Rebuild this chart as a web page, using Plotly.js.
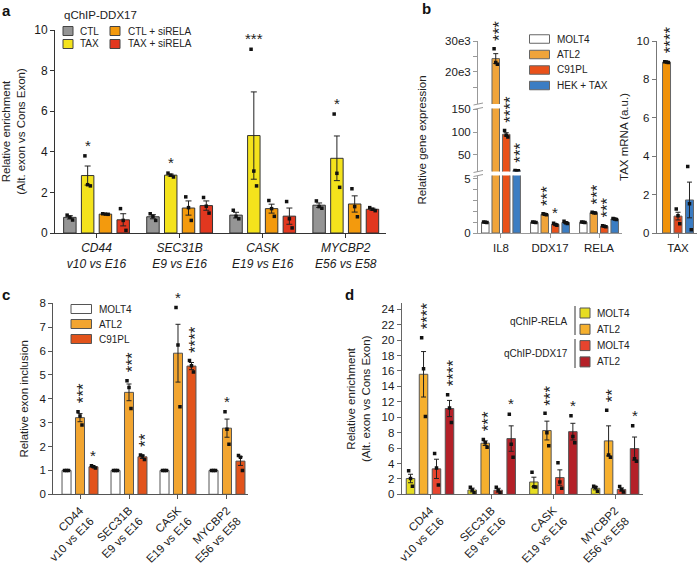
<!DOCTYPE html>
<html><head><meta charset="utf-8">
<script src="https://cdn.plot.ly/plotly-3.0.1.min.js"></script>
<style>html,body{margin:0;padding:0;background:#fff;} #chart{width:697px;height:565px;}</style>
</head><body><div id="chart"></div>
<script>
// ================= DATA =================
const geneNames = ['CD44', 'SEC31B', 'CASK', 'MYCBP2'];
const exonPairs = ['v10 vs E16', 'E9 vs E16', 'E19 vs E16', 'E56 vs E58'];

// ---- Panel a : qChIP-DDX17 ----
const aTitle = 'qChIP-DDX17';
const aSeries = ['CTL', 'TAX', 'CTL + siRELA', 'TAX + siRELA'];
const aCTL = [0.77, 0.80, 0.88, 1.37];
const aTAX = [2.83, 2.85, 4.80, 3.68];
const aCTLsi = [0.93, 1.23, 1.20, 1.43];
const aTAXsi = [0.65, 1.35, 0.83, 1.17];
const aCTLerr = [0.08, 0.10, 0.14, 0.11];
const aTAXerr = [0.47, 0.05, 2.15, 1.10];
const aCTLsiErr = [0.02, 0.35, 0.22, 0.40];
const aTAXsiErr = [0.30, 0.23, 0.40, 0.05];
const aCTLpts = [[0.88, 0.78, 0.64], [0.95, 0.82, 0.62], [1.12, 0.82, 0.70], [1.58, 1.30, 1.22]];
const aTAXpts = [[3.80, 2.38, 2.32], [2.95, 2.85, 2.76], [9.05, 3.05, 2.32], [5.86, 2.94, 2.25]];
const aCTLsiPts = [[0.95, 0.93, 0.92], [1.78, 1.25, 0.62], [1.60, 1.20, 0.82], [2.18, 1.30, 0.80]];
const aTAXsiPts = [[1.20, 0.62, 0.13], [1.75, 1.32, 0.98], [1.55, 0.70, 0.25], [1.25, 1.17, 1.10]];
const aTAXstars = ['*', '*', '***', '*'];

// ---- Panel b (left) : relative gene expression ----
const bCats = ['IL8', 'DDX17', 'RELA'];
const bSeries = ['MOLT4', 'ATL2', 'C91PL', 'HEK + TAX'];
const bMOLT4 = [1, 1, 1];
const bATL2 = [24300, 1.73, 1.88];
const bC91PL = [95, 0.80, 0.62];
const bHEK = [16, 0.97, 1.30];
const bMOLT4err = [0.02, 0.02, 0.02];
const bATL2err = [1600, 0.05, 0.05];
const bC91PLerr = [3.5, 0.08, 0.04];
const bHEKerr = [0.3, 0.08, 0.05];
const bMOLT4pts = [[1.02, 1.0, 0.98], [1.02, 1.0, 0.98], [1.02, 1.0, 0.98]];
const bATL2pts = [[27500, 23000, 22500], [1.78, 1.73, 1.68], [1.92, 1.88, 1.84]];
const bC91PLpts = [[103, 93, 89], [0.90, 0.78, 0.72], [0.66, 0.62, 0.58]];
const bHEKpts = [[16.3, 16.0, 15.7], [1.08, 0.95, 0.88], [1.35, 1.30, 1.25]];
const bATL2stars = ['***', '***', '***'];
const bC91PLstars = ['****', '*', '***'];
const bHEKstars = ['***', '', ''];
const bTopTicks = [15000, 20000, 25000, 30000];
const bTopTickText = ['', '20e3', '', '30e3'];
const bMidTicks = [50, 100, 150];
const bLowTicks = [0, 1, 2, 3, 4, 5];
const bLowTickText = ['0', '', '', '', '', '5'];

// ---- Panel b (right) : TAX mRNA ----
const tCats = ['TAX'];
const tSeries = ['ATL2', 'C91PL', 'HEK + TAX'];
const tValues = [8.90, 0.88, 1.72];
const tErr = [0.02, 0.20, 0.93];
const tPts = [[8.92, 8.90, 8.88], [1.25, 0.90, 0.48], [3.47, 1.52, 0.17]];
const tStars = ['****', '', ''];

// ---- Panel c : relative exon inclusion ----
const cSeries = ['MOLT4', 'ATL2', 'C91PL'];
const cMOLT4 = [1, 1, 1, 1];
const cATL2 = [3.21, 4.27, 5.91, 2.77];
const cC91PL = [1.15, 1.57, 5.37, 1.39];
const cMOLT4err = [0.01, 0.01, 0.01, 0.01];
const cATL2err = [0.17, 0.35, 1.21, 0.38];
const cC91PLerr = [0.03, 0.07, 0.15, 0.18];
const cMOLT4pts = [[1, 1, 1], [1, 1, 1], [1, 1, 1], [1, 1, 1]];
const cATL2pts = [[3.46, 3.28, 2.90], [4.76, 4.47, 3.59], [7.82, 6.25, 3.67], [3.46, 2.72, 2.10]];
const cC91PLpts = [[1.20, 1.15, 1.10], [1.65, 1.60, 1.46], [5.60, 5.38, 5.12], [1.62, 1.55, 1.00]];
const cATL2stars = ['***', '***', '*', '*'];
const cC91PLstars = ['*', '**', '****', ''];

// ---- Panel d : qChIP-RELA / qChIP-DDX17 ----
const dGroups = ['qChIP-RELA', 'qChIP-DDX17'];
const dSeries = ['MOLT4', 'ATL2', 'MOLT4', 'ATL2'];
const dRelaMOLT4 = [2.05, 0.55, 1.60, 0.78];
const dRelaATL2 = [15.57, 6.63, 8.27, 6.93];
const dDdxMOLT4 = [3.30, 0.53, 2.17, 0.63];
const dDdxATL2 = [11.13, 7.23, 8.13, 5.93];
const dRelaMOLT4err = [0.55, 0.25, 0.62, 0.20];
const dRelaATL2err = [2.95, 0.30, 1.22, 1.95];
const dDdxMOLT4err = [1.25, 0.25, 1.00, 0.20];
const dDdxATL2err = [1.05, 1.65, 1.08, 1.50];
const dRelaMOLT4pts = [[3.05, 2.05, 1.05], [0.90, 0.55, 0.20], [2.85, 0.98, 0.95], [1.05, 0.90, 0.40]];
const dRelaATL2pts = [[20.3, 16.3, 10.1], [7.10, 6.70, 6.10], [10.5, 8.0, 6.3], [10.9, 5.1, 4.8]];
const dDdxMOLT4pts = [[5.3, 3.4, 1.2], [0.90, 0.50, 0.20], [4.1, 1.6, 0.8], [1.0, 0.6, 0.3]];
const dDdxATL2pts = [[12.9, 11.2, 9.3], [10.4, 6.5, 4.8], [10.2, 7.5, 6.7], [8.9, 4.6, 4.3]];
const dRelaATL2stars = ['****', '***', '***', '**'];
const dDdxATL2stars = ['****', '*', '*', '*'];

// ================= BUILD =================
const W = 697, H = 565;
const P = px => px / W;           // pixel -> paper x
const Q = py => 1 - py / H;       // pixel -> paper y
const FONT = 'Liberation Sans, Arial, Helvetica, sans-serif';
const jit = [-0.22, 0, 0.22];
const traces = [], annotations = [], shapes = [];

function addSeries(xa, ya, off, w, vals, errs, pts, color, lineCol, capW) {
  traces.push({
    type: 'bar', xaxis: xa, yaxis: ya,
    x: vals.map((_, i) => i + off), y: vals, width: w,
    marker: {color: color, line: {color: lineCol, width: 1}},
    error_y: {type: 'data', array: errs, visible: true, color: '#222', thickness: 1, width: capW},
    showlegend: false, hoverinfo: 'skip'
  });
  const px = [], py = [];
  pts.forEach((arr, i) => arr.forEach((v, j) => { px.push(i + off + jit[j] * w); py.push(v); }));
  traces.push({
    type: 'scatter', mode: 'markers', xaxis: xa, yaxis: ya, x: px, y: py,
    marker: {symbol: 'square', size: 3.5, color: '#111'},
    showlegend: false, hoverinfo: 'skip'
  });
}

function topOf(vals, errs, pts, i) {
  return Math.max(vals[i] + errs[i], Math.max.apply(null, pts[i]));
}

function addStar(xa, ya, x, y, text, rotatedOk, size) {
  if (!text) return;
  const rot = rotatedOk && text.length > 1;
  annotations.push({
    xref: xa, yref: ya, x: x, y: y, text: text, showarrow: false,
    xanchor: 'center', yanchor: 'bottom',
    textangle: rot ? -90 : 0,
    xshift: rot ? 3.5 : 0, yshift: rot ? 6 : 0,
    font: {family: FONT, size: rot ? 17 : size, color: '#222'}
  });
}

function legendRect(x0, yc, w, h, color, lineCol, label, labelX) {
  shapes.push({type: 'rect', xref: 'paper', yref: 'paper',
    x0: P(x0), x1: P(x0 + w), y0: Q(yc + h / 2), y1: Q(yc - h / 2),
    fillcolor: color, line: {color: lineCol, width: 1}});
  annotations.push({xref: 'paper', yref: 'paper', x: P(labelX), y: Q(yc), text: label,
    showarrow: false, xanchor: 'left', yanchor: 'middle', font: {family: FONT, size: 10, color: '#222'}});
}

function axBase(col) {
  return {showline: true, linecolor: col, linewidth: 1, ticks: 'outside', ticklen: 4, tickwidth: 1,
    tickcolor: col, showgrid: false, zeroline: false, fixedrange: true, type: 'linear',
    tickfont: {family: FONT, size: 11.5, color: '#1a1a1a'}};
}

// ---- Panel a ----
const aCol = ['#959595', '#f4e31c', '#f39a0d', '#e2371f'];
const aOff = [-0.321, -0.107, 0.107, 0.321], aW = 0.15;
[[aCTL, aCTLerr, aCTLpts], [aTAX, aTAXerr, aTAXpts], [aCTLsi, aCTLsiErr, aCTLsiPts], [aTAXsi, aTAXsiErr, aTAXsiPts]]
  .forEach((s, k) => addSeries('x', 'y', aOff[k], aW, s[0], s[1], s[2], aCol[k], '#333', 3));
aTAXstars.forEach((st, i) => addStar('x', 'y', i + aOff[1], topOf(aTAX, aTAXerr, aTAXpts, i), st, false, 15));

// ---- Panel b (left, broken axis) ----
const bCol = ['#ffffff', '#f0a43a', '#e9511a', '#3b7dc3'];
const bOff = [-0.32, -0.107, 0.107, 0.32], bW = 0.153;
const bData = [[bMOLT4, bMOLT4err, bMOLT4pts], [bATL2, bATL2err, bATL2pts], [bC91PL, bC91PLerr, bC91PLpts], [bHEK, bHEKerr, bHEKpts]];
['y2', 'y3', 'y4'].forEach(ya => bData.forEach((s, k) => addSeries('x2', ya, bOff[k], bW, s[0], s[1], s[2], bCol[k], '#666', 2.5)));
[[bATL2, bATL2err, bATL2pts, bATL2stars, 1], [bC91PL, bC91PLerr, bC91PLpts, bC91PLstars, 2], [bHEK, bHEKerr, bHEKpts, bHEKstars, 3]]
  .forEach(s => s[3].forEach((st, i) => {
    const t = topOf(s[0], s[1], s[2], i);
    const ya = t > 5000 ? 'y4' : (t > 10 ? 'y3' : 'y2');
    addStar('x2', ya, i + bOff[s[4]], t, st, true, 15);
  }));

// ---- Panel b (right) ----
const tCol = ['#f0920a', '#e1461d', '#3a7bc2'];
const tOff = [-0.214, 0, 0.214], tW = 0.149;
tValues.forEach((v, k) => addSeries('x3', 'y5', tOff[k], tW, [v], [tErr[k]], [tPts[k]], tCol[k], '#666', 2.5));
tStars.forEach((st, k) => addStar('x3', 'y5', tOff[k], Math.max(tValues[k] + tErr[k], Math.max.apply(null, tPts[k])), st, true, 15));

// ---- Panel c ----
const cCol = ['#ffffff', '#f2a530', '#e2531b'];
const cOff = [-0.275, 0, 0.275], cW = 0.184;
[[cMOLT4, cMOLT4err, cMOLT4pts], [cATL2, cATL2err, cATL2pts], [cC91PL, cC91PLerr, cC91PLpts]]
  .forEach((s, k) => addSeries('x4', 'y6', cOff[k], cW, s[0], s[1], s[2], cCol[k], '#555', 2.5));
cATL2stars.forEach((st, i) => addStar('x4', 'y6', i + cOff[1], topOf(cATL2, cATL2err, cATL2pts, i), st, true, 15));
cC91PLstars.forEach((st, i) => addStar('x4', 'y6', i + cOff[2], topOf(cC91PL, cC91PLerr, cC91PLpts, i), st, true, 15));

// ---- Panel d ----
const dCol = ['#e6dd22', '#f6b02e', '#e8442e', '#b42028'];
const dOff = [-0.316, -0.105, 0.105, 0.316], dW = 0.138;
[[dRelaMOLT4, dRelaMOLT4err, dRelaMOLT4pts], [dRelaATL2, dRelaATL2err, dRelaATL2pts], [dDdxMOLT4, dDdxMOLT4err, dDdxMOLT4pts], [dDdxATL2, dDdxATL2err, dDdxATL2pts]]
  .forEach((s, k) => addSeries('x5', 'y7', dOff[k], dW, s[0], s[1], s[2], dCol[k], '#555', 2.5));
dRelaATL2stars.forEach((st, i) => addStar('x5', 'y7', i + dOff[1], topOf(dRelaATL2, dRelaATL2err, dRelaATL2pts, i), st, true, 15));
dDdxATL2stars.forEach((st, i) => addStar('x5', 'y7', i + dOff[3], topOf(dDdxATL2, dDdxATL2err, dDdxATL2pts, i), st, true, 15));

// ---- Legends ----
annotations.push({xref: 'paper', yref: 'paper', x: P(62), y: Q(15), text: aTitle, showarrow: false,
  xanchor: 'left', yanchor: 'middle', font: {family: FONT, size: 11.5, color: '#222'}});
legendRect(63, 31, 10, 9, aCol[0], '#444', aSeries[0], 78);
legendRect(63, 44, 10, 9, aCol[1], '#444', aSeries[1], 78);
legendRect(110, 31, 10, 9, aCol[2], '#444', aSeries[2], 125.5);
legendRect(110, 44, 10, 9, aCol[3], '#444', aSeries[3], 125.5);

bSeries.forEach((s, k) => legendRect(529.5, 39 + k * 15.5, 20, 8.5, bCol[k], '#666', s, 554.5));
cSeries.forEach((s, k) => legendRect(71, 309 + k * 15, 20.5, 9, cCol[k], '#555', s, 96.5));
dSeries.forEach((s, k) => legendRect(580, 313 + k * 16.3, 10, 10, dCol[k], '#555', s, 595));
shapes.push({type: 'line', xref: 'paper', yref: 'paper', x0: P(575), x1: P(575), y0: Q(306), y1: Q(335), line: {color: '#333', width: 1}});
shapes.push({type: 'line', xref: 'paper', yref: 'paper', x0: P(575), x1: P(575), y0: Q(339), y1: Q(368), line: {color: '#333', width: 1}});
dGroups.forEach((g, k) => annotations.push({xref: 'paper', yref: 'paper', x: P(570), y: Q(321 + k * 32.6), text: g,
  showarrow: false, xanchor: 'right', yanchor: 'middle', font: {family: FONT, size: 10, color: '#222'}}));

// ---- axis break marks (panel b) ----
[175.5, 171.5, 108.5, 104].forEach(yb => shapes.push({type: 'line', xref: 'paper', yref: 'paper',
  x0: P(473.5), x1: P(483), y0: Q(yb + 1), y1: Q(yb - 1), line: {color: '#999', width: 1}}));

// ---- panel letters ----
[['a', 0, 10], ['b', 420, 8], ['c', 0, 294], ['d', 343, 294]].forEach(l => annotations.push({
  xref: 'paper', yref: 'paper', x: P(l[1]), y: Q(l[2]), text: '<b>' + l[0] + '</b>', showarrow: false,
  xanchor: 'left', yanchor: 'middle', font: {family: FONT, size: 15, color: '#111'}}));

// ================= LAYOUT =================
const layout = {
  width: W, height: H, margin: {l: 0, r: 0, t: 0, b: 0},
  paper_bgcolor: '#fff', plot_bgcolor: 'rgba(0,0,0,0)',
  font: {family: FONT, size: 11, color: '#222'},
  barmode: 'overlay', showlegend: false,
  xaxis: Object.assign(axBase('#333'), {domain: [P(55), P(386)], range: [-0.5, 3.484], anchor: 'y',
    tickvals: [0, 1, 2, 3], ticktext: geneNames.map((g, i) => '<i>' + g + '</i><br><i>' + exonPairs[i] + '</i>'),
    tickfont: {family: FONT, size: 12, color: '#1a1a1a'}}),
  yaxis: Object.assign(axBase('#333'), {domain: [Q(233), Q(30)], range: [0, 10], anchor: 'x',
    tickvals: [0, 2, 4, 6, 8, 10], tickfont: {family: FONT, size: 12, color: '#1a1a1a'},
    title: {text: 'Relative enrichment<br>(Alt. exon vs Cons Exon)', font: {family: FONT, size: 11.5, color: '#222'}, standoff: 8}}),

  xaxis2: Object.assign(axBase('#999'), {domain: [P(478), P(621.7)], range: [-0.469, 2.463], anchor: 'y2',
    tickvals: [0, 1, 2], ticktext: bCats}),
  yaxis2: Object.assign(axBase('#999'), {domain: [Q(233), Q(175.5)], range: [0, 5.32], anchor: 'x2',
    tickvals: bLowTicks, ticktext: bLowTickText}),
  yaxis3: Object.assign(axBase('#999'), {domain: [Q(171.5), Q(108.5)], range: [14.1, 151.1], anchor: 'x2',
    tickvals: bMidTicks, title: {text: 'Relative gene expression', font: {family: FONT, size: 11.5, color: '#222'}, standoff: 22}}),
  yaxis4: Object.assign(axBase('#999'), {domain: [Q(104), Q(41)], range: [9580, 30000], anchor: 'x2',
    tickvals: bTopTicks, ticktext: bTopTickText}),

  xaxis3: Object.assign(axBase('#777'), {domain: [P(656.7), 1], range: [-0.397, 0.354], anchor: 'y5',
    tickvals: [0], ticktext: tCats}),
  yaxis5: Object.assign(axBase('#777'), {domain: [Q(233), Q(41)], range: [0, 10], anchor: 'x3',
    tickvals: [0, 2, 4, 6, 8, 10], title: {text: 'TAX mRNA (a.u.)', font: {family: FONT, size: 11.5, color: '#222'}, standoff: 5}}),

  xaxis4: Object.assign(axBase('#555'), {domain: [P(53.3), P(248.3)], range: [-0.545, 3.435], anchor: 'y6',
    tickvals: [0, 1, 2, 3], ticktext: geneNames.map((g, i) => g + '<br>' + exonPairs[i]), tickangle: -45}),
  yaxis6: Object.assign(axBase('#555'), {domain: [Q(494.3), Q(303.3)], range: [0, 8], anchor: 'x4',
    tickvals: [0, 1, 2, 3, 4, 5, 6, 7, 8], title: {text: 'Relative exon inclusion', font: {family: FONT, size: 11.5, color: '#222'}, standoff: 8}}),

  xaxis5: Object.assign(axBase('#666'), {domain: [P(401.7), P(643)], range: [-0.459, 3.453], anchor: 'y7',
    tickvals: [0, 1, 2, 3], ticktext: geneNames.map((g, i) => g + '<br>' + exonPairs[i]), tickangle: -45}),
  yaxis7: Object.assign(axBase('#666'), {domain: [Q(494.3), Q(303.3)], range: [0, 24.78], anchor: 'x5',
    tickvals: [0, 2, 4, 6, 8, 10, 12, 14, 16, 18, 20, 22, 24],
    title: {text: 'Relative enrichment<br>(Alt. exon vs Cons Exon)', font: {family: FONT, size: 11.5, color: '#222'}, standoff: 8}}),

  annotations: annotations, shapes: shapes
};

Plotly.newPlot('chart', traces, layout, {staticPlot: true, displayModeBar: false});
</script>
</body></html>
